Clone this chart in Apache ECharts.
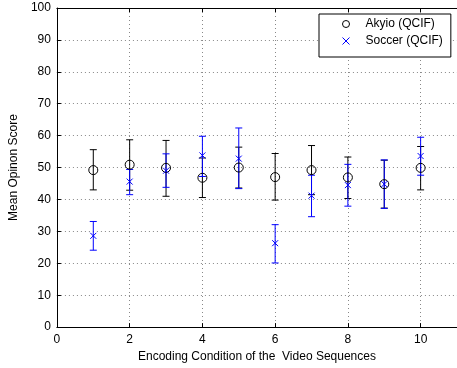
<!DOCTYPE html>
<html>
<head>
<meta charset="utf-8">
<script src="https://cdn.jsdelivr.net/npm/echarts@6/dist/echarts.min.js"></script>
<style>
  html, body { margin: 0; padding: 0; background: #fff; }
  #chart { width: 457px; height: 368px; }
</style>
</head>
<body>
<div id="chart"></div>
<script>
const conditions = [1, 2, 3, 4, 5, 6, 7, 8, 9, 10]
const akyioMean = [49.2, 50.9, 49.9, 46.8, 50.0, 47.0, 49.2, 46.9, 44.8, 49.9]
const akyioLow = [43.0, 42.9, 41.0, 40.6, 43.6, 39.8, 41.5, 40.3, 37.3, 43.0]
const akyioHigh = [55.6, 58.7, 58.5, 53.0, 56.4, 54.4, 56.9, 53.3, 52.3, 56.6]
const soccerMean = [28.6, 45.6, 49.0, 53.8, 52.8, 26.3, 41.2, 44.5, 44.8, 53.6]
const soccerLow = [24.1, 41.5, 43.8, 47.2, 43.4, 20.1, 34.6, 37.9, 37.2, 47.6]
const soccerHigh = [33.1, 49.4, 54.3, 59.8, 62.4, 32.1, 47.6, 51.0, 52.4, 59.5]

const fontFamily = "'Liberation Sans', Arial, sans-serif"
const blue = "#0000ff"

const chart = echarts.init(document.getElementById("chart"), null, { renderer: "canvas" })

// error bar drawn from [x, low, high]
const errorBar = (color) => (params, api) => {
  const x = api.value(0)
  const top = api.coord([x, api.value(2)])
  const bot = api.coord([x, api.value(1)])
  const w = 3.5
  const style = { stroke: color, lineWidth: 1 }
  return {
    type: "group",
    children: [
      { type: "line", shape: { x1: top[0], y1: top[1], x2: bot[0], y2: bot[1] }, style },
      { type: "line", shape: { x1: top[0] - w, y1: top[1], x2: top[0] + w, y2: top[1] }, style },
      { type: "line", shape: { x1: bot[0] - w, y1: bot[1], x2: bot[0] + w, y2: bot[1] }, style },
    ],
  }
}

const gridLine = { show: true, lineStyle: { color: "#888", type: [1, 3], width: 1 } }

const option = {
  animation: false,
  backgroundColor: "#fff",
  textStyle: { fontFamily },
  grid: { left: 50, top: 8, width: 410, height: 323 },
  legend: {
    data: ["Akyio (QCIF)", "Soccer (QCIF)"],
    orient: "vertical",
    left: 319,
    top: 14,
    padding: [4, 8, 10, 23],
    itemGap: 5,
    itemWidth: 7,
    itemHeight: 7,
    itemStyle: { borderWidth: 1 },
    borderColor: "#000",
    borderWidth: 1,
    backgroundColor: "#fff",
    textStyle: { fontSize: 12, color: "#000", padding: [0, 0, 0, 11], lineHeight: 12 },
  },
  xAxis: [
    {
      type: "value",
      min: 0,
      max: 11,
      interval: 2,
      name: "Encoding Condition of the  Video Sequences",
      nameLocation: "middle",
      nameGap: 22,
      nameTextStyle: { fontSize: 12, color: "#000" },
      axisLine: { show: true, onZero: false, lineStyle: { color: "#000", width: 1 } },
      axisTick: { inside: true, length: 4, lineStyle: { color: "#000" } },
      axisLabel: { fontSize: 12, color: "#000", margin: 7, showMaxLabel: false },
      splitLine: gridLine,
    },
    {
      type: "value",
      position: "top",
      min: 0,
      max: 11,
      interval: 2,
      axisLine: { show: true, onZero: false, lineStyle: { color: "#000", width: 1 } },
      axisTick: { inside: true, length: 4, lineStyle: { color: "#000" } },
      axisLabel: { show: false },
      splitLine: { show: false },
    },
  ],
  yAxis: {
    type: "value",
    min: 0,
    max: 100,
    interval: 10,
    name: "Mean Opinon Score",
    nameLocation: "middle",
    nameGap: 31,
    nameTextStyle: { fontSize: 12, color: "#000" },
    axisLine: { show: true, onZero: false, lineStyle: { color: "#000", width: 1 } },
    axisTick: { inside: true, length: 4, lineStyle: { color: "#000" } },
    axisLabel: { fontSize: 12, color: "#000", margin: 6 },
    splitLine: gridLine,
  },
  series: [
    {
      name: "akyio-err",
      type: "custom",
      renderItem: errorBar("#000"),
      data: conditions.map((c, i) => [c, akyioLow[i], akyioHigh[i]]),
      z: 2,
    },
    {
      name: "soccer-err",
      type: "custom",
      renderItem: errorBar(blue),
      data: conditions.map((c, i) => [c, soccerLow[i], soccerHigh[i]]),
      z: 3,
    },
    {
      name: "Akyio (QCIF)",
      type: "scatter",
      symbol: "circle",
      symbolSize: 9,
      itemStyle: { color: "rgba(0,0,0,0)", borderColor: "#000", borderWidth: 1, opacity: 1 },
      data: conditions.map((c, i) => [c, akyioMean[i]]),
      z: 4,
    },
    {
      name: "Soccer (QCIF)",
      type: "scatter",
      symbol: "path://M0,0L10,10M10,0L0,10",
      symbolSize: 6,
      itemStyle: { color: "rgba(0,0,0,0)", borderColor: blue, borderWidth: 1, opacity: 1 },
      data: conditions.map((c, i) => [c, soccerMean[i]]),
      z: 5,
    },
  ],
}

chart.setOption(option)
</script>
</body>
</html>
